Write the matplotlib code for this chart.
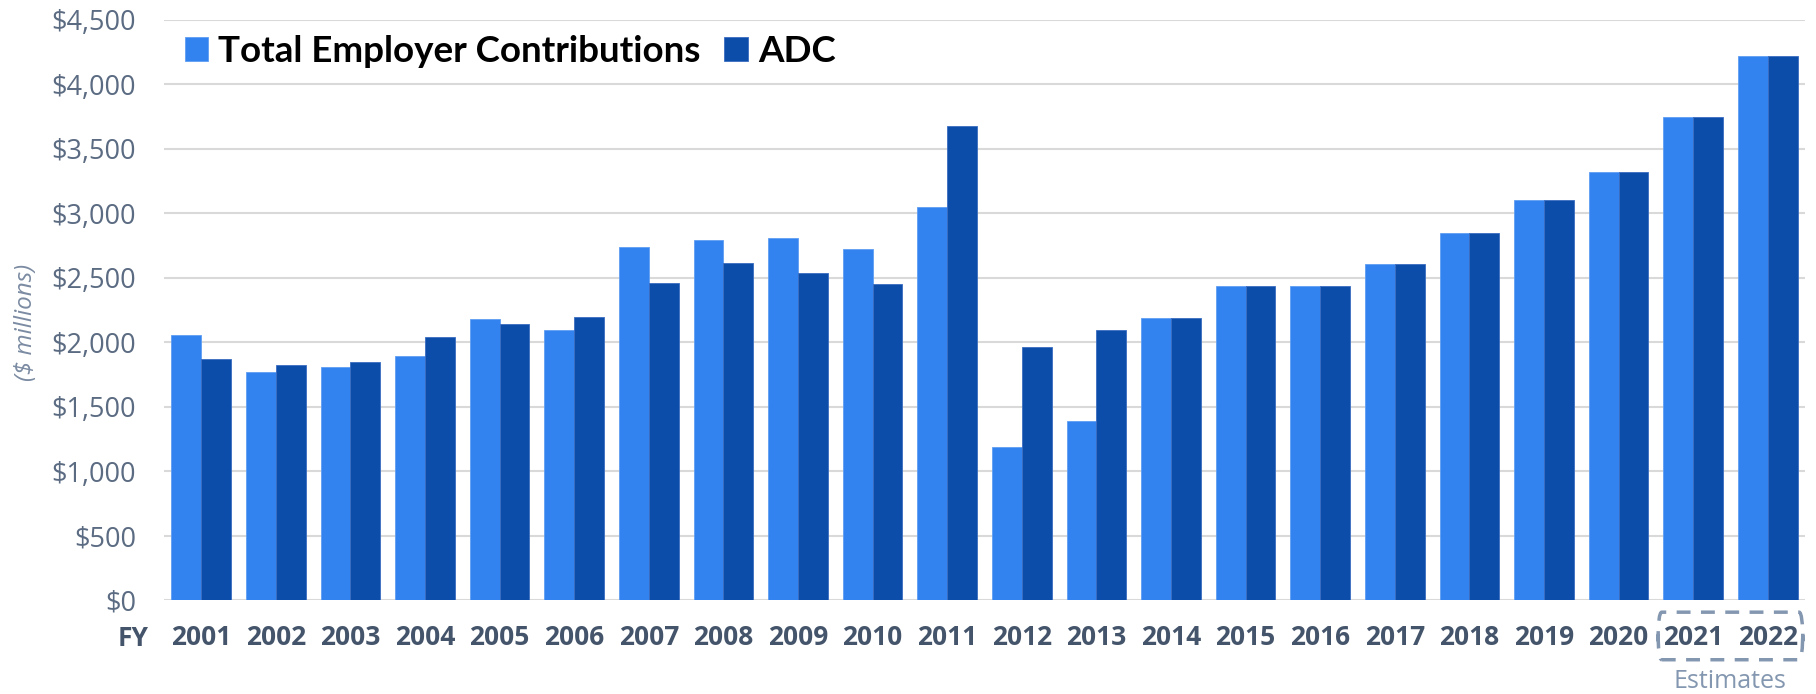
import numpy as np
import matplotlib
matplotlib.use("Agg")
from matplotlib import pyplot as plt
from matplotlib.patches import FancyBboxPatch
from matplotlib.transforms import blended_transform_factory
from matplotlib.font_manager import FontProperties

plt.rcParams['font.family'] = ['Open Sans', 'DejaVu Sans']

# fiscal years and contributions ($ millions)
years = ['2001', '2002', '2003', '2004', '2005', '2006', '2007', '2008', '2009', '2010', '2011',
         '2012', '2013', '2014', '2015', '2016', '2017', '2018', '2019', '2020', '2021', '2022']
total_contrib = [2056, 1769, 1808, 1891, 2178, 2095, 2736, 2796, 2806, 2721, 3049,
                 1185, 1386, 2190, 2439, 2439, 2604, 2850, 3103, 3321, 3745, 4221]
adc = [1867, 1823, 1844, 2040, 2141, 2196, 2457, 2612, 2535, 2449, 3676,
       1961, 2092, 2190, 2439, 2439, 2604, 2850, 3103, 3321, 3745, 4221]
y_ticks = [0, 500, 1000, 1500, 2000, 2500, 3000, 3500, 4000, 4500]

light = '#3282f0'
dark = '#0d4daa'
tick_col = '#5b6b82'
year_col = '#44546a'
est_col = '#8497b0'

fig = plt.figure(figsize=(18.16, 6.94), dpi=100)
ax = fig.add_axes([164/1816, 94/694, 1641/1816, 580/694])

x = np.arange(len(years))
w = 0.4
ax.bar(x - w/2, total_contrib, w, color=light, edgecolor='#5f9df2', linewidth=0.6,
       label='Total Employer Contributions', zorder=3)
ax.bar(x + w/2, adc, w, color=dark, edgecolor='#3a6cc0', linewidth=0.6, label='ADC', zorder=3)

ax.set_xlim(-0.5, len(years) - 0.5)
ax.set_ylim(0, 4500)
ax.set_yticks(y_ticks)
ax.set_yticklabels(['${:,}'.format(v) for v in y_ticks], fontsize=19.5, color=tick_col)
ax.set_xticks(x)
ax.set_xticklabels(years, fontsize=19, fontweight='bold', color=year_col)
ax.tick_params(axis='y', length=0, pad=20)
ax.tick_params(axis='x', length=0, pad=17)
ax.grid(axis='y', color='#d9d9d9', linewidth=1.5, zorder=0)
for s in ['top', 'right', 'left', 'bottom']:
    ax.spines[s].set_visible(False)

ax.set_ylabel('($ millions)', fontsize=17.5, style='italic', color='#7b8ba2')
ax.yaxis.set_label_coords(-0.077, 0.478)

ax.text(-0.019, -0.066, 'FY', transform=ax.transAxes, fontsize=19, fontweight='bold',
        color=year_col, ha='center', va='center')

# dashed box round the estimate years
trans = blended_transform_factory(ax.transData, ax.transAxes)
box = FancyBboxPatch((19.53, -0.103), 1.94, 0.082, boxstyle='round,pad=0,rounding_size=0.05',
                     transform=trans, fill=False, edgecolor=est_col, linewidth=2.5,
                     linestyle=(0, (4, 3)), clip_on=False)
ax.add_patch(box)
ax.text(20.5, -0.141, 'Estimates', transform=trans, fontsize=18, color=est_col,
        ha='center', va='center')

leg_font = FontProperties(family='Lato', weight='bold', size=26.5)
ax.legend(loc='center left', bbox_to_anchor=(0.0128, 0.945), ncol=2, frameon=False,
          prop=leg_font, handlelength=0.63, handleheight=0.63, handletextpad=0.28,
          columnspacing=0.64, borderpad=0, borderaxespad=0)

fig.savefig('out.png', dpi=100)
